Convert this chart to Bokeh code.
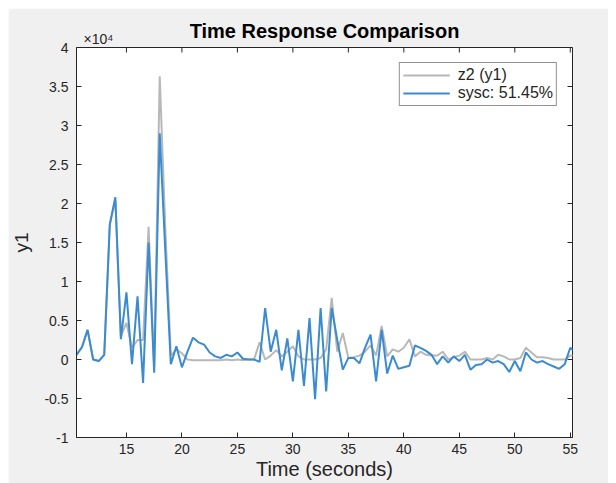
import numpy as np
from bokeh.plotting import figure
from bokeh.layouts import column, row
from bokeh.models import (Range1d, FixedTicker, CustomJSTickFormatter, Title, Spacer,
                          Legend, LegendItem, ColumnDataSource)
from bokeh.embed import file_html
from bokeh.resources import INLINE

# ---- data ----
time_s = [10.5, 11.0, 11.5, 12.0, 12.5, 13.0, 13.5, 14.0, 14.5, 15.0,
          15.5, 16.0, 16.5, 17.0, 17.5, 18.0, 18.5, 19.0, 19.5, 20.0,
          20.5, 21.0, 21.5, 22.0, 22.5, 23.0, 23.5, 24.0, 24.5, 25.0,
          25.5, 26.0, 26.5, 27.0, 27.5, 28.0, 28.5, 29.0, 29.5, 30.0,
          30.5, 31.0, 31.5, 32.0, 32.5, 33.0, 33.5, 34.0, 34.5, 35.0,
          35.5, 36.0, 36.5, 37.0, 37.5, 38.0, 38.5, 39.0, 39.5, 40.0,
          40.5, 41.0, 41.5, 42.0, 42.5, 43.0, 43.5, 44.0, 44.5, 45.0,
          45.5, 46.0, 46.5, 47.0, 47.5, 48.0, 48.5, 49.0, 49.5, 50.0,
          50.5, 51.0, 51.5, 52.0, 52.5, 53.0, 53.5, 54.0, 54.5, 55.0, 55.5]

# measured output z2 (y1)
z2_y1 = [600, 1600, 3800, 0, -200, 600, 17300, 20500, 3000, 4700,
         1500, 2500, 2500, 17000, -1000, 36300, 17000, 500, 1300, 800,
         0, -100, -100, -100, -100, -100, -100, 0, -100, 0,
         -100, 0, 0, 2200, 0, 500, 1200, 400, 1000, 1700,
         400, 0, 0, 0, 200, 1300, 7900, 1000, 3400, 200,
         300, 500, 1000, 1800, 500, 4300, 400, 1300, 1000, 1500,
         2600, 400, 1000, 600, 500, 500, 1000, 0, 300, 500,
         1000, 0, 0, 0, 200, 0, 600, 400, 0, 0,
         200, 1500, 900, 300, 300, 200, 0, 0, 0, 500, 500]

# simulated model output sysc
sysc = [600, 1600, 3800, 0, -200, 600, 17300, 20800, 2600, 8600,
        -600, 8100, -3000, 15000, -1700, 29000, 14000, -600, 1700, -1000,
        1000, 2800, 2200, 1900, 900, 400, 200, 600, 400, 900,
        100, 0, 0, -300, 6600, 1000, 3800, -1400, 2700, -2800,
        3800, -3400, 5300, -5100, 6600, -4100, 6600, 2500, -1300, 200,
        200, -500, 1500, 3200, -2800, 3800, -1800, 500, -1200, -1000,
        -800, 1800, 1500, 1100, 600, -600, 400, -400, 400, -200,
        600, -1300, -700, -600, 0, -400, -200, -600, -1600, -200,
        -1500, 900, 0, -400, -200, -600, -900, -1200, -600, 1500, 1000]

x_ticks = [15, 20, 25, 30, 35, 40, 45, 50, 55]
y_ticks = [-10000, -5000, 0, 5000, 10000, 15000, 20000, 25000, 30000, 35000, 40000]
x_lim = (10.5, 55.2)
y_lim = (-10000, 40000)

FONT = "Liberation Sans"
TXT = "#262626"

src = ColumnDataSource(dict(t=time_s, z2=z2_y1, sysc=sysc))

p = figure(width=600, height=475, output_backend="svg", toolbar_location=None,
           x_range=Range1d(*x_lim), y_range=Range1d(*y_lim),
           min_border_left=64, min_border_right=36, min_border_top=39,
           min_border_bottom=46)
p.background_fill_color = "white"
p.border_fill_color = "#f0f0f0"
p.outline_line_color = TXT
p.outline_line_width = 1
p.grid.visible = False

# main title (outer row, pulled down beside the exponent note)
p.title.text = "Time Response Comparison"
p.title.align = "center"
p.title.standoff = -28
p.title.text_font = FONT
p.title.text_font_size = "20px"
p.title.text_font_style = "bold"
p.title.text_color = "black"

exp_title = Title(text="×10⁴", align="left", offset=7, standoff=2,
                  text_font=FONT, text_font_size="14px", text_font_style="normal",
                  text_color=TXT)
p.add_layout(exp_title, "above")

# main axes
xa = p.xaxis[0]
xa.ticker = FixedTicker(ticks=x_ticks)
xa.axis_label = "Time (seconds)"
ya = p.yaxis[0]
ya.ticker = FixedTicker(ticks=y_ticks)
ya.formatter = CustomJSTickFormatter(code="return (tick/10000).toString();")
ya.axis_label = "y1"
for ax in (xa, ya):
    ax.major_tick_in = 5
    ax.major_tick_out = 0
    ax.minor_tick_line_color = None
    ax.axis_line_color = TXT
    ax.major_tick_line_color = TXT
    ax.major_label_text_font = FONT
    ax.major_label_text_font_size = "14px"
    ax.major_label_text_color = TXT
    ax.axis_label_text_font = FONT
    ax.axis_label_text_font_size = "19px"
    ax.axis_label_text_font_style = "normal"
    ax.axis_label_text_color = TXT
xa.axis_label_text_font_size = "20px"
xa.major_label_standoff = 6
xa.axis_label_standoff = 1
ya.major_label_standoff = 8
ya.axis_label_standoff = 9

# box ticks on the top and right edges (inward)
p.scatter(x=x_ticks, y=[y_lim[1]] * len(x_ticks), marker="dash", angle=np.pi / 2,
          size=10, line_color=TXT, line_width=1)
p.scatter(x=[x_lim[1]] * len(y_ticks), y=y_ticks, marker="dash",
          size=10, line_color=TXT, line_width=1)

r_gray = p.line("t", "z2", source=src, line_color="#b8b8b8", line_width=2)
r_blue = p.line("t", "sysc", source=src, line_color="#3a8bd0", line_width=2)

legend = Legend(items=[LegendItem(label="z2 (y1)", renderers=[r_gray]),
                       LegendItem(label="sysc: 51.45%", renderers=[r_blue])],
                location="top_right")
legend.margin = 15
legend.padding = 3
legend.spacing = 0
legend.glyph_width = 47
legend.glyph_height = 18
legend.label_height = 18
legend.label_standoff = 8
legend.label_text_font = FONT
legend.label_text_font_size = "16px"
legend.label_text_color = TXT
legend.border_line_color = TXT
legend.border_line_width = 1.5
legend.background_fill_color = "white"
legend.background_fill_alpha = 1.0
p.add_layout(legend)

layout = column(Spacer(height=8, width=616), row(Spacer(width=8, height=475), p))

open("out.html", "w").write(file_html(layout, INLINE))
